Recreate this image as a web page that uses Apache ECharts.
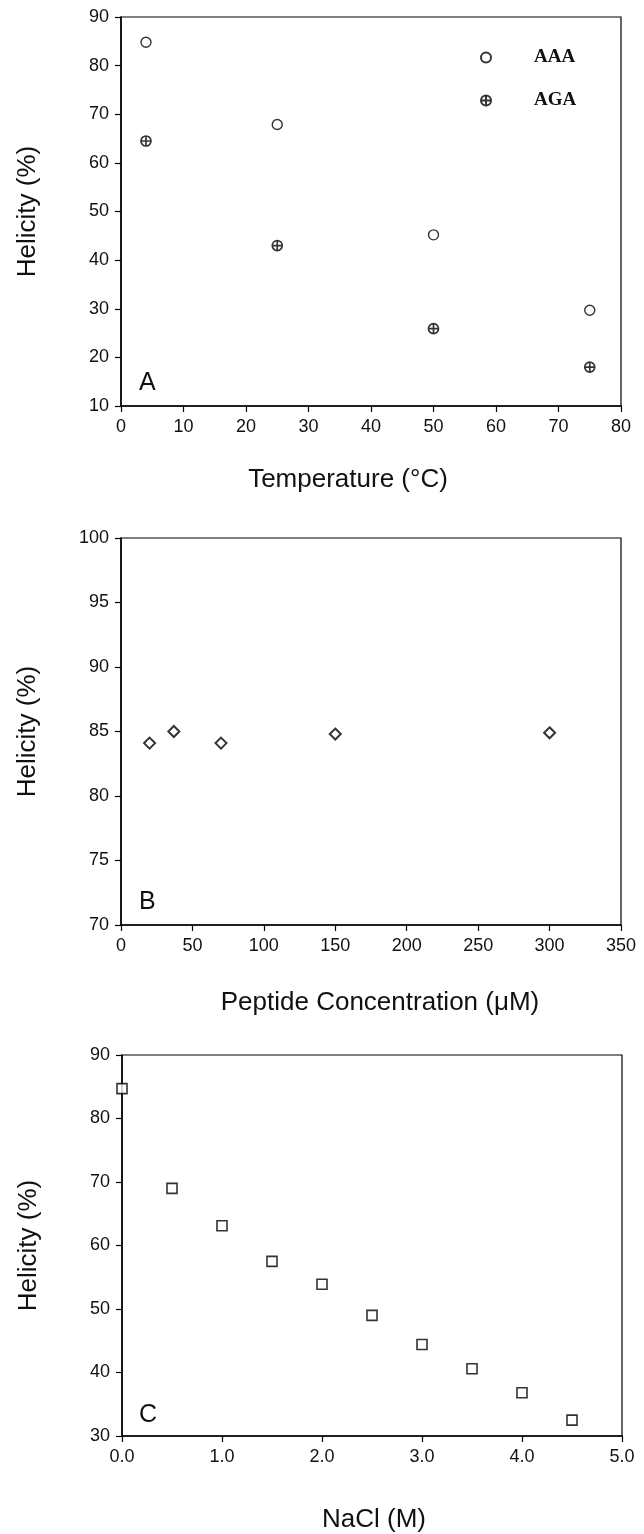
<!DOCTYPE html>
<html>
<head>
<meta charset="utf-8">
<script src="https://cdn.jsdelivr.net/npm/echarts@6/dist/echarts.min.js"></script>
<style>
html, body { margin: 0; padding: 0; background: #fff; }
#chart { width: 644px; height: 1534px; }
</style>
</head>
<body>
<div id="chart"></div>
<script>
// A: helicity vs temperature
const tempC = [4, 25, 50, 75];
const helixAAA = [84.8, 67.9, 45.2, 29.7];
const helixAGA = [64.5, 43.0, 25.9, 18.0];

// B: helicity vs peptide concentration
const peptideUM = [20, 37, 70, 150, 300];
const helixPeptide = [84.1, 85.0, 84.1, 84.8, 84.9];

// C: helicity vs NaCl
const naclM = [0, 0.5, 1.0, 1.5, 2.0, 2.5, 3.0, 3.5, 4.0, 4.5];
const helixNaCl = [84.7, 69.0, 63.1, 57.5, 53.9, 49.0, 44.4, 40.6, 36.8, 32.5];

const panelLetters = ["A", "B", "C"];
const xNames = ["Temperature (°C)", "Peptide Concentration (\u03bcM)", "NaCl (M)"];

const sans = "Liberation Sans, Arial, sans-serif";
const ink = "#111";

const plusCircle =
  "path://M0,10 A10,10 0 1,0 20,10 A10,10 0 1,0 0,10 Z M10,0 L10,20 M0,10 L20,10";

const zip = (xs, ys) => xs.map((x, i) => [x, ys[i]]);

const grids = [
  { left: 121, right: 23, top: 17, height: 389 },
  { left: 121, right: 23, top: 538, height: 387 },
  { left: 122, right: 22, top: 1055, height: 384 },
];

const axisBase = {
  axisLine: { show: true, onZero: false, lineStyle: { color: "#000", width: 1.5 } },
  axisTick: { show: true, inside: false, length: 6, lineStyle: { color: "#000", width: 1.2 } },
  splitLine: { show: false },
  axisLabel: { color: ink, fontSize: 18, fontFamily: sans, margin: 12 },
  nameTextStyle: { color: ink, fontSize: 26, fontFamily: sans },
};

const xRanges = [
  { min: 0, max: 80, interval: 10, gap: 61, pad: [0, 46, 0, 0] },
  { min: 0, max: 350, interval: 50, gap: 65, pad: [0, 0, 0, 18] },
  { min: 0, max: 5, interval: 1, gap: 71, pad: [0, 0, 0, 4] },
];
const yRanges = [
  { min: 10, max: 90, interval: 10 },
  { min: 70, max: 100, interval: 5 },
  { min: 30, max: 90, interval: 10 },
];

const xAxis = xRanges.map((r, i) => ({
  ...axisBase,
  type: "value",
  gridIndex: i,
  min: r.min,
  max: r.max,
  interval: r.interval,
  name: xNames[i],
  nameLocation: "middle",
  nameGap: r.gap,
  nameTextStyle: { ...axisBase.nameTextStyle, padding: r.pad },
  axisLabel: {
    ...axisBase.axisLabel,
    formatter: i === 2 ? (v) => v.toFixed(1) : (v) => String(v),
  },
}));

const yAxis = yRanges.map((r, i) => ({
  ...axisBase,
  type: "value",
  gridIndex: i,
  min: r.min,
  max: r.max,
  interval: r.interval,
  name: "Helicity (%)",
  nameLocation: "middle",
  nameGap: 80,
}));

const hollow = { color: "#fff", borderColor: "#000", borderWidth: 1.4 };

const option = {
  backgroundColor: "#fff",
  animation: false,
  grid: grids.map((g) => ({ ...g, show: true, borderColor: "#000", borderWidth: 1.2, backgroundColor: "transparent" })),
  xAxis,
  yAxis,
  title: panelLetters.map((t, i) => ({
    text: t,
    left: 139,
    top: [371, 890, 1403][i],
    padding: 0,
    textStyle: { fontSize: 25, fontWeight: "normal", fontFamily: sans, color: ink },
  })),
  legend: {
    orient: "vertical",
    left: 475,
    top: 43,
    itemWidth: 10,
    itemHeight: 10,
    itemGap: 24,
    data: ["AAA", "AGA"],
    textStyle: {
      fontFamily: "Liberation Serif, Times New Roman, serif",
      fontWeight: "bold",
      fontSize: 19,
      color: ink,
      padding: [0, 0, 0, 38],
    },
  },
  series: [
    {
      name: "AAA",
      type: "scatter",
      xAxisIndex: 0,
      yAxisIndex: 0,
      symbol: "circle",
      symbolSize: 10,
      itemStyle: hollow,
      data: zip(tempC, helixAAA),
    },
    {
      name: "AGA",
      type: "scatter",
      xAxisIndex: 0,
      yAxisIndex: 0,
      symbol: plusCircle,
      symbolSize: 10,
      itemStyle: { ...hollow, borderWidth: 1.7 },
      data: zip(tempC, helixAGA),
    },
    {
      name: "peptide",
      type: "scatter",
      xAxisIndex: 1,
      yAxisIndex: 1,
      symbol: "diamond",
      symbolSize: 11,
      itemStyle: { ...hollow, borderWidth: 2 },
      data: zip(peptideUM, helixPeptide),
    },
    {
      name: "nacl",
      type: "scatter",
      xAxisIndex: 2,
      yAxisIndex: 2,
      symbol: "rect",
      symbolSize: 10,
      clip: false,
      itemStyle: { ...hollow, borderWidth: 1.6 },
      data: zip(naclM, helixNaCl),
    },
  ],
};

const myChart = echarts.init(document.getElementById("chart"), null, { renderer: "canvas" });
myChart.setOption(option);
</script>
</body>
</html>
